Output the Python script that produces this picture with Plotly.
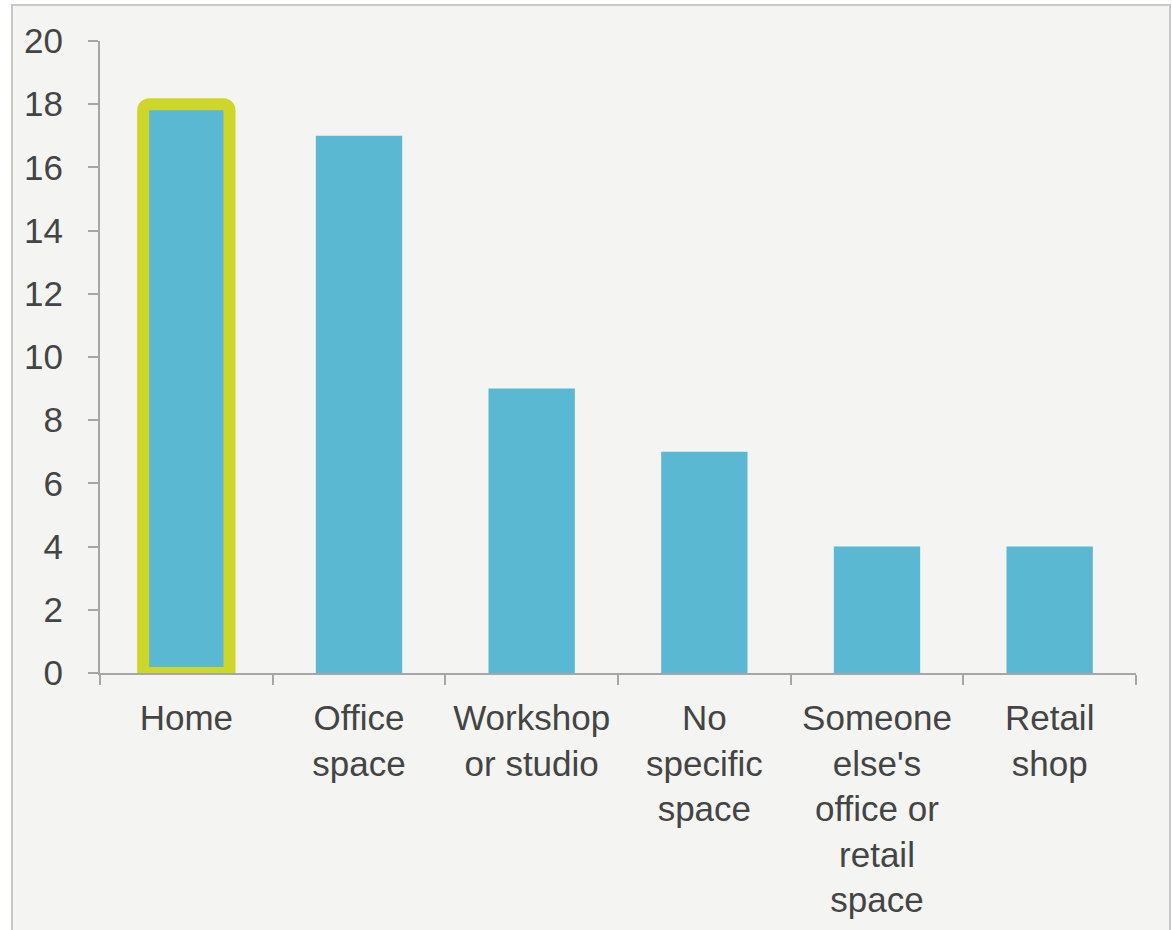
import plotly.graph_objects as go

categories = ["Home", "Office<br>space", "Workshop<br>or studio", "No<br>specific<br>space",
              "Someone<br>else's<br>office or<br>retail<br>space", "Retail<br>shop"]
values = [18, 17, 9, 7, 4, 4]
highlight = [18, None, None, None, None, None]
y_ticks = [0, 2, 4, 6, 8, 10, 12, 14, 16, 18, 20]

BAR = "#5bb8d2"
HL = "#cfd62a"
TXT = "#444444"
AX = "#a6a6a6"
PANEL = "#f4f4f2"

fig = go.Figure()
fig.add_trace(go.Bar(x=categories, y=values, marker=dict(color=BAR, line=dict(width=0)),
                     width=0.5, hoverinfo="skip"))
fig.add_trace(go.Bar(x=categories, y=highlight,
                     marker=dict(color="rgba(0,0,0,0)", line=dict(width=12, color=HL), cornerradius=6),
                     width=0.5, hoverinfo="skip"))

fig.add_shape(type="rect", xref="paper", yref="paper",
              x0=(12 - 100) / 1036, x1=(1170 - 100) / 1036,
              y0=-0.5, y1=1 + (41 - 5) / 632,
              fillcolor=PANEL, line=dict(color="#c8c8c8", width=2), layer="below")

fig.update_layout(
    width=1172, height=930,
    margin=dict(l=100, r=36, t=41, b=257),
    paper_bgcolor="white", plot_bgcolor=PANEL,
    barmode="overlay", showlegend=False,
    font=dict(family="Liberation Sans, Arial, sans-serif", size=35, color=TXT),
    xaxis=dict(showline=True, linecolor=AX, linewidth=2, ticks="outside", tickson="boundaries",
               ticklen=10, tickcolor=AX, tickwidth=2, showgrid=False, zeroline=False,
               ticklabelstandoff=13, fixedrange=True),
    yaxis=dict(range=[0, 20], tickvals=y_ticks, showline=True, linecolor=AX, linewidth=2,
               ticks="outside", ticklen=10, tickcolor=AX, tickwidth=2, showgrid=False,
               zeroline=False, ticklabelstandoff=18, fixedrange=True),
)

fig.write_html("out.html", config={"displayModeBar": False},
               post_script="document.body.style.margin='0';document.body.style.overflow='hidden';")
